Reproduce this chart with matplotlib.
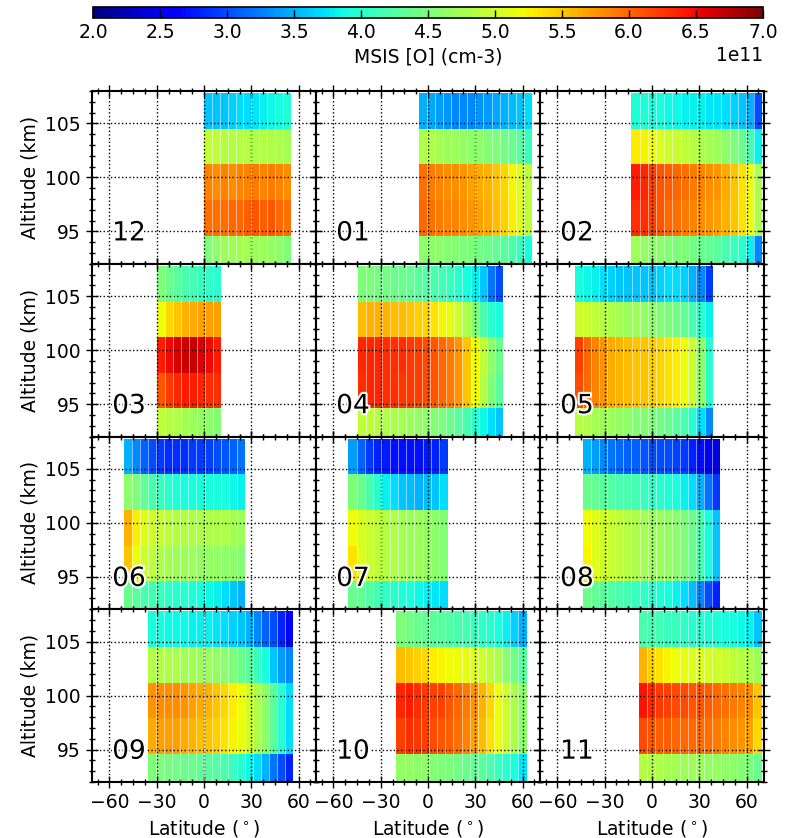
import matplotlib
matplotlib.use('Agg')
import matplotlib.pyplot as plt
import matplotlib.patheffects as pe
import numpy as np
from matplotlib.ticker import AutoMinorLocator

# month order of the panels (row by row)
months = ['12', '01', '02', '03', '04', '05', '06', '07', '08', '09', '10', '11']

# latitude coverage of each month (deg)
lat_lo = [0, -6, -13, -30, -44.5, -49, -51, -50.5, -43.7, -35.6, -20, -8.4]
lat_hi = [55, 66, 70, 11, 47.4, 38.5, 26, 12.4, 43.3, 56.4, 62.5, 69.5]

# altitude bin edges (km)
alt_edges = [91.3, 94.6, 97.9, 101.2, 104.5, 107.8]

# MSIS [O] in 1e11 cm-3, rows from lowest to highest altitude bin,
# columns from south to north
o_12 = [[4.5, 4.6, 4.7, 4.7, 4.75, 4.75, 4.7, 4.7, 4.65, 4.6, 4.5],
        [5.95, 5.95, 5.95, 6.0, 6.0, 6.05, 6.1, 6.05, 6.1, 6.0, 5.95],
        [5.85, 5.8, 5.85, 5.8, 5.85, 5.85, 5.9, 5.85, 5.9, 5.85, 5.8],
        [4.9, 4.9, 4.85, 4.85, 4.85, 4.85, 4.8, 4.85, 4.8, 4.8, 4.75],
        [3.6, 3.6, 3.6, 3.65, 3.7, 3.7, 3.75, 3.8, 3.85, 3.9, 3.95]]
o_01 = [[4.6, 4.6, 4.6, 4.55, 4.55, 4.5, 4.5, 4.45, 4.4, 4.35, 4.3, 4.2, 4.1, 3.9],
        [6.0, 5.95, 5.9, 5.85, 5.85, 5.8, 5.75, 5.7, 5.65, 5.55, 5.45, 5.3, 5.1, 4.9],
        [5.95, 5.9, 5.85, 5.8, 5.8, 5.75, 5.7, 5.65, 5.6, 5.5, 5.4, 5.25, 5.1, 4.9],
        [4.8, 4.8, 4.75, 4.7, 4.7, 4.65, 4.6, 4.6, 4.55, 4.5, 4.45, 4.4, 4.3, 4.1],
        [3.5, 3.45, 3.4, 3.35, 3.3, 3.3, 3.3, 3.35, 3.4, 3.45, 3.5, 3.55, 3.6, 3.7]]
o_02 = [[4.7, 4.65, 4.6, 4.6, 4.55, 4.5, 4.5, 4.45, 4.4, 4.35, 4.3, 4.2, 4.1, 4.0, 3.8, 3.3],
        [6.3, 6.3, 6.2, 6.1, 6.0, 5.95, 5.9, 5.85, 5.8, 5.75, 5.7, 5.6, 5.5, 5.35, 5.2, 4.8],
        [6.4, 6.35, 6.2, 6.1, 6.05, 6.0, 5.95, 5.9, 5.85, 5.8, 5.75, 5.65, 5.5, 5.35, 5.2, 4.8],
        [5.3, 5.25, 5.2, 5.1, 5.0, 4.95, 4.9, 4.85, 4.8, 4.75, 4.7, 4.6, 4.5, 4.4, 4.2, 3.8],
        [3.95, 3.95, 3.9, 3.9, 3.85, 3.85, 3.8, 3.8, 3.8, 3.75, 3.75, 3.7, 3.65, 3.6, 3.5, 3.0]]
o_03 = [[4.9, 4.85, 4.8, 4.75, 4.7, 4.65, 4.6, 4.55],
        [6.1, 6.25, 6.35, 6.4, 6.4, 6.35, 6.3, 6.3],
        [6.4, 6.5, 6.6, 6.65, 6.7, 6.6, 6.5, 6.4],
        [5.2, 5.4, 5.5, 5.6, 5.65, 5.7, 5.7, 5.7],
        [4.5, 4.4, 4.3, 4.2, 4.15, 4.1, 4.05, 4.0]]
o_04 = [[4.9, 4.9, 4.85, 4.8, 4.8, 4.75, 4.7, 4.65, 4.6, 4.55, 4.5, 4.4, 4.3, 4.2, 4.0, 3.85, 3.7, 3.6],
        [6.3, 6.35, 6.35, 6.3, 6.3, 6.25, 6.25, 6.2, 6.15, 6.1, 6.0, 5.9, 5.75, 5.5, 5.2, 4.85, 4.5, 4.3],
        [6.35, 6.35, 6.35, 6.3, 6.3, 6.3, 6.25, 6.2, 6.15, 6.1, 6.0, 5.9, 5.75, 5.5, 5.2, 4.9, 4.6, 4.4],
        [5.55, 5.6, 5.6, 5.6, 5.55, 5.55, 5.5, 5.45, 5.4, 5.35, 5.25, 5.15, 5.0, 4.8, 4.5, 4.2, 4.0, 3.9],
        [4.5, 4.5, 4.45, 4.45, 4.4, 4.4, 4.35, 4.3, 4.25, 4.2, 4.15, 4.1, 4.0, 3.9, 3.8, 3.6, 3.2, 3.0]]
o_05 = [[4.85, 4.8, 4.75, 4.7, 4.7, 4.65, 4.6, 4.55, 4.55, 4.5, 4.45, 4.4, 4.3, 4.2, 4.0, 3.7, 3.3],
        [6.15, 6.0, 5.85, 5.75, 5.65, 5.6, 5.55, 5.5, 5.5, 5.45, 5.4, 5.35, 5.3, 5.2, 5.0, 4.6, 4.0],
        [6.2, 6.0, 5.85, 5.75, 5.65, 5.6, 5.55, 5.5, 5.5, 5.45, 5.4, 5.35, 5.3, 5.2, 5.0, 4.6, 4.0],
        [5.0, 4.95, 4.9, 4.85, 4.8, 4.75, 4.7, 4.7, 4.65, 4.6, 4.55, 4.5, 4.45, 4.35, 4.2, 4.0, 3.8],
        [3.9, 3.85, 3.8, 3.7, 3.65, 3.6, 3.6, 3.6, 3.6, 3.6, 3.65, 3.7, 3.7, 3.65, 3.5, 3.3, 2.9]]
o_06 = [[4.4, 4.3, 4.2, 4.15, 4.1, 4.05, 4.0, 4.0, 3.95, 3.9, 3.85, 3.8, 3.7, 3.6, 3.5],
        [5.5, 5.2, 5.0, 4.9, 4.8, 4.75, 4.7, 4.7, 4.7, 4.65, 4.65, 4.65, 4.6, 4.6, 4.55],
        [5.6, 5.3, 5.1, 5.0, 4.95, 4.9, 4.85, 4.85, 4.8, 4.8, 4.8, 4.8, 4.8, 4.75, 4.7],
        [4.6, 4.5, 4.35, 4.2, 4.1, 4.0, 3.95, 3.9, 3.9, 3.9, 3.9, 3.9, 3.9, 3.85, 3.8],
        [3.5, 3.3, 3.1, 3.0, 2.9, 2.85, 2.85, 2.85, 2.9, 2.9, 2.95, 3.0, 3.05, 3.1, 3.2]]
o_07 = [[4.4, 4.35, 4.25, 4.15, 4.05, 4.0, 3.95, 3.9, 3.85, 3.8, 3.75, 3.7],
        [5.35, 5.1, 4.95, 4.9, 4.85, 4.8, 4.75, 4.7, 4.7, 4.65, 4.6, 4.55],
        [5.2, 5.05, 4.95, 4.9, 4.85, 4.8, 4.75, 4.7, 4.7, 4.65, 4.6, 4.55],
        [4.5, 4.4, 4.2, 4.0, 3.8, 3.7, 3.6, 3.55, 3.5, 3.55, 3.6, 3.7],
        [3.4, 3.1, 2.9, 2.8, 2.75, 2.7, 2.7, 2.7, 2.7, 2.75, 2.8, 2.9]]
o_08 = [[4.4, 4.35, 4.3, 4.25, 4.2, 4.15, 4.1, 4.05, 4.0, 3.95, 3.9, 3.8, 3.7, 3.55, 3.3, 3.0, 2.8],
        [5.25, 5.1, 5.0, 4.95, 4.9, 4.85, 4.8, 4.75, 4.7, 4.7, 4.65, 4.6, 4.5, 4.4, 4.2, 3.9, 3.6],
        [5.2, 5.1, 5.0, 4.95, 4.9, 4.85, 4.8, 4.75, 4.7, 4.7, 4.65, 4.6, 4.5, 4.4, 4.2, 3.9, 3.6],
        [4.4, 4.35, 4.3, 4.25, 4.2, 4.2, 4.15, 4.1, 4.05, 4.0, 3.95, 3.9, 3.8, 3.7, 3.5, 3.2, 2.9],
        [3.5, 3.4, 3.3, 3.2, 3.15, 3.1, 3.1, 3.05, 3.0, 3.0, 3.0, 2.95, 2.9, 2.8, 2.7, 2.5, 2.4]]
o_09 = [[4.5, 4.5, 4.45, 4.45, 4.4, 4.4, 4.35, 4.3, 4.25, 4.2, 4.1, 4.0, 3.85, 3.7, 3.5, 3.2, 3.0, 2.8],
        [5.65, 5.7, 5.7, 5.7, 5.65, 5.6, 5.55, 5.5, 5.45, 5.35, 5.25, 5.15, 5.0, 4.8, 4.6, 4.3, 4.0, 3.7],
        [5.75, 5.8, 5.8, 5.8, 5.75, 5.7, 5.65, 5.6, 5.5, 5.4, 5.3, 5.2, 5.0, 4.8, 4.6, 4.3, 4.0, 3.7],
        [4.85, 4.85, 4.8, 4.8, 4.75, 4.75, 4.7, 4.7, 4.65, 4.6, 4.5, 4.4, 4.3, 4.1, 3.9, 3.6, 3.4, 3.3],
        [3.9, 3.9, 3.85, 3.85, 3.85, 3.8, 3.8, 3.8, 3.75, 3.7, 3.65, 3.6, 3.5, 3.3, 3.1, 3.0, 2.8, 2.6]]
o_10 = [[4.65, 4.65, 4.6, 4.6, 4.55, 4.5, 4.5, 4.45, 4.4, 4.35, 4.3, 4.2, 4.1, 4.0, 3.9, 3.75],
        [6.2, 6.3, 6.25, 6.2, 6.15, 6.1, 6.05, 5.95, 5.85, 5.7, 5.55, 5.35, 5.2, 5.0, 4.8, 4.6],
        [6.35, 6.4, 6.3, 6.25, 6.2, 6.2, 6.1, 6.0, 5.9, 5.75, 5.6, 5.4, 5.2, 5.0, 4.8, 4.6],
        [5.55, 5.5, 5.45, 5.4, 5.3, 5.25, 5.2, 5.2, 5.15, 5.1, 5.0, 4.9, 4.8, 4.6, 4.45, 4.3],
        [4.5, 4.45, 4.4, 4.35, 4.3, 4.3, 4.25, 4.2, 4.15, 4.1, 4.05, 4.0, 3.9, 3.8, 3.65, 3.5]]
o_11 = [[4.85, 4.8, 4.8, 4.75, 4.75, 4.7, 4.7, 4.7, 4.65, 4.65, 4.6, 4.6, 4.55, 4.5, 4.4],
        [6.15, 6.1, 6.05, 6.05, 6.0, 6.0, 6.0, 5.95, 5.95, 5.9, 5.85, 5.8, 5.75, 5.7, 5.4],
        [6.45, 6.35, 6.25, 6.2, 6.15, 6.15, 6.1, 6.1, 6.05, 6.0, 5.95, 5.9, 5.85, 5.8, 5.5],
        [5.6, 5.45, 5.35, 5.25, 5.2, 5.15, 5.1, 5.1, 5.05, 5.0, 4.95, 4.9, 4.85, 4.8, 4.7],
        [4.2, 4.2, 4.15, 4.1, 4.1, 4.05, 4.0, 4.0, 3.95, 3.95, 3.9, 3.9, 3.85, 3.8, 3.6]]

density = [o_12, o_01, o_02, o_03, o_04, o_05, o_06, o_07, o_08, o_09, o_10, o_11]

cbar_ticks = [2.0, 2.5, 3.0, 3.5, 4.0, 4.5, 5.0, 5.5, 6.0, 6.5, 7.0]

plt.rcParams['font.size'] = 13.5
plt.rcParams['axes.linewidth'] = 1.5

fig, axs = plt.subplots(4, 3, figsize=(7.92, 8.38), dpi=100, sharex=True, sharey=True)
plt.subplots_adjust(left=0.1162, right=0.9646, top=0.8914, bottom=0.0668,
                    wspace=0, hspace=0)

for i, ax in enumerate(axs.flat):
    vals = np.array(density[i]) * 1e11
    lat_edges = np.linspace(lat_lo[i], lat_hi[i], vals.shape[1] + 1)
    mesh = ax.pcolormesh(lat_edges, alt_edges, vals, cmap='jet', vmin=2e11, vmax=7e11)
    # faint white seams between latitude bins
    ax.vlines(lat_edges[1:-1], alt_edges[0], alt_edges[-1], colors='white',
              linewidth=0.6, alpha=0.6)
    ax.set_xlim(-71, 71)
    ax.set_ylim(92, 108)
    ax.set_xticks([-60, -30, 0, 30, 60])
    ax.set_yticks([95, 100, 105])
    ax.xaxis.set_minor_locator(AutoMinorLocator())
    ax.yaxis.set_minor_locator(AutoMinorLocator())
    ax.tick_params(which='both', direction='inout', top=True, right=True, width=1)
    ax.tick_params(which='major', length=9)
    ax.tick_params(which='minor', length=5)
    ax.grid(True, which='major', color='k', linestyle=':', linewidth=1)
    txt = ax.text(0.09, 0.135, months[i], transform=ax.transAxes, fontsize=19,
                  ha='left', va='baseline', zorder=5)
    txt.set_path_effects([pe.withStroke(linewidth=3, foreground='white')])

for ax in axs[:, 0]:
    ax.set_ylabel('Altitude (km)')
for ax in axs[-1, :]:
    ax.set_xlabel(r'Latitude ($^\circ$)')

cax = fig.add_axes([0.1174, 0.9785, 0.846, 0.0131])
cb = fig.colorbar(mesh, cax=cax, orientation='horizontal',
                  ticks=np.array(cbar_ticks) * 1e11)
cb.set_label('MSIS [O] (cm-3)')
cb.ax.tick_params(direction='in', length=6, width=1)
cb.outline.set_linewidth(1.2)

fig.savefig('out.png', dpi=100)
